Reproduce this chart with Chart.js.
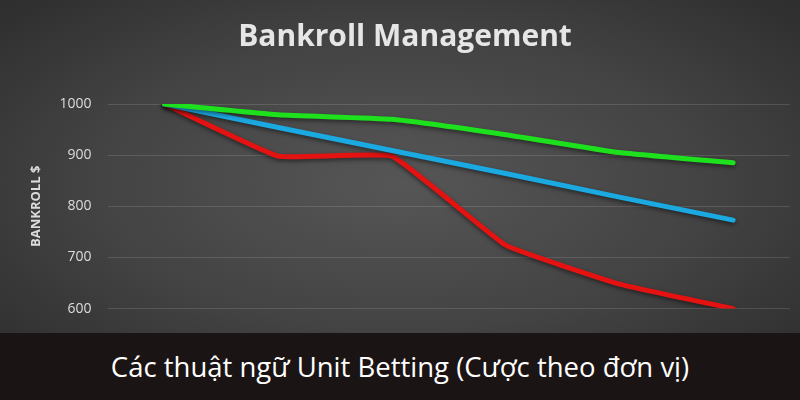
<!DOCTYPE html>
<html>
<head>
<meta charset="utf-8">
<script src="https://cdn.jsdelivr.net/npm/chart.js@4.4.1/dist/chart.umd.min.js"></script>
<style>
  html, body { margin: 0; padding: 0; background: #1b1414; }
  #wrap {
    width: 800px; height: 333px; position: relative;
    background: radial-gradient(ellipse 70% 80% at 50% 55%, #565656 0%, #434343 55%, #2d2d2d 100%);
  }
  #banner {
    width: 800px; height: 67px; background: #1b1414; color: #ffffff;
    font-family: "Open Sans", sans-serif; font-size: 27.5px;
    text-align: center; line-height: 67px;
  }
</style>
</head>
<body>
<div id="wrap"><canvas id="bankChart" width="800" height="333"></canvas></div>
<div id="banner">Các thuật ngữ Unit Betting (Cược theo đơn vị)</div>
<script>
// Data for chart
const steps = ["1", "2", "3", "4", "5", "6"];
const greenValues = [1000, 979, 970, 940, 905, 885];
const blueValues = [1000, 954, 909, 864, 818, 773];
const redValues = [1000, 898, 898, 724, 648, 600];
const yTicks = [600, 700, 800, 900, 1000];

// soft shadow under the lines
const lineShadow = {
    id: "lineShadow",
    beforeDatasetsDraw(chart) {
        chart.ctx.save();
        chart.ctx.shadowColor = "rgba(0,0,0,0.5)";
        chart.ctx.shadowBlur = 4;
        chart.ctx.shadowOffsetY = 2;
    },
    afterDatasetsDraw(chart) {
        chart.ctx.restore();
    },
};

const ctx = document.getElementById("bankChart").getContext("2d");
new Chart(ctx, {
    type: "line",
    data: {
        labels: steps,
        datasets: [
            {
                label: "Green",
                data: greenValues,
                borderColor: "#1ee11e",
                borderWidth: 5,
                tension: 0.15,
            },
            {
                label: "Blue",
                data: blueValues,
                borderColor: "#1ba9e2",
                borderWidth: 5,
                tension: 0,
            },
            {
                label: "Red",
                data: redValues,
                borderColor: "#e51212",
                borderWidth: 5,
                tension: 0.1,
            },
        ],
    },
    options: {
        responsive: false,
        animation: false,
        elements: {
            point: { radius: 0 },
            line: { borderJoinStyle: "round", borderCapStyle: "round" },
        },
        layout: {
            padding: { left: 20, right: 10, top: 8, bottom: 22 },
        },
        plugins: {
            legend: { display: false },
            tooltip: { enabled: false },
            title: {
                display: true,
                text: "Bankroll Management",
                color: "#e6e6e6",
                font: { family: "Open Sans", size: 30, weight: "bold" },
                padding: { top: 11, bottom: 49 },
            },
        },
        scales: {
            x: {
                display: false,
                offset: true,
            },
            y: {
                min: 600,
                max: 1000,
                afterBuildTicks: (axis) => {
                    axis.ticks = yTicks.map((v) => ({ value: v }));
                },
                grid: { color: "rgba(255,255,255,0.13)", drawTicks: false },
                border: { display: false },
                ticks: {
                    color: "#dcdcdc",
                    padding: 16,
                    font: { family: "Open Sans", size: 14 },
                    callback: (v) => String(v),
                },
                title: {
                    display: true,
                    text: "BANKROLL $",
                    color: "#dcdcdc",
                    padding: { top: 8, bottom: 0 },
                    font: { family: "Open Sans", size: 13, weight: "bold" },
                },
            },
        },
    },
    plugins: [lineShadow],
});
</script>
</body>
</html>
